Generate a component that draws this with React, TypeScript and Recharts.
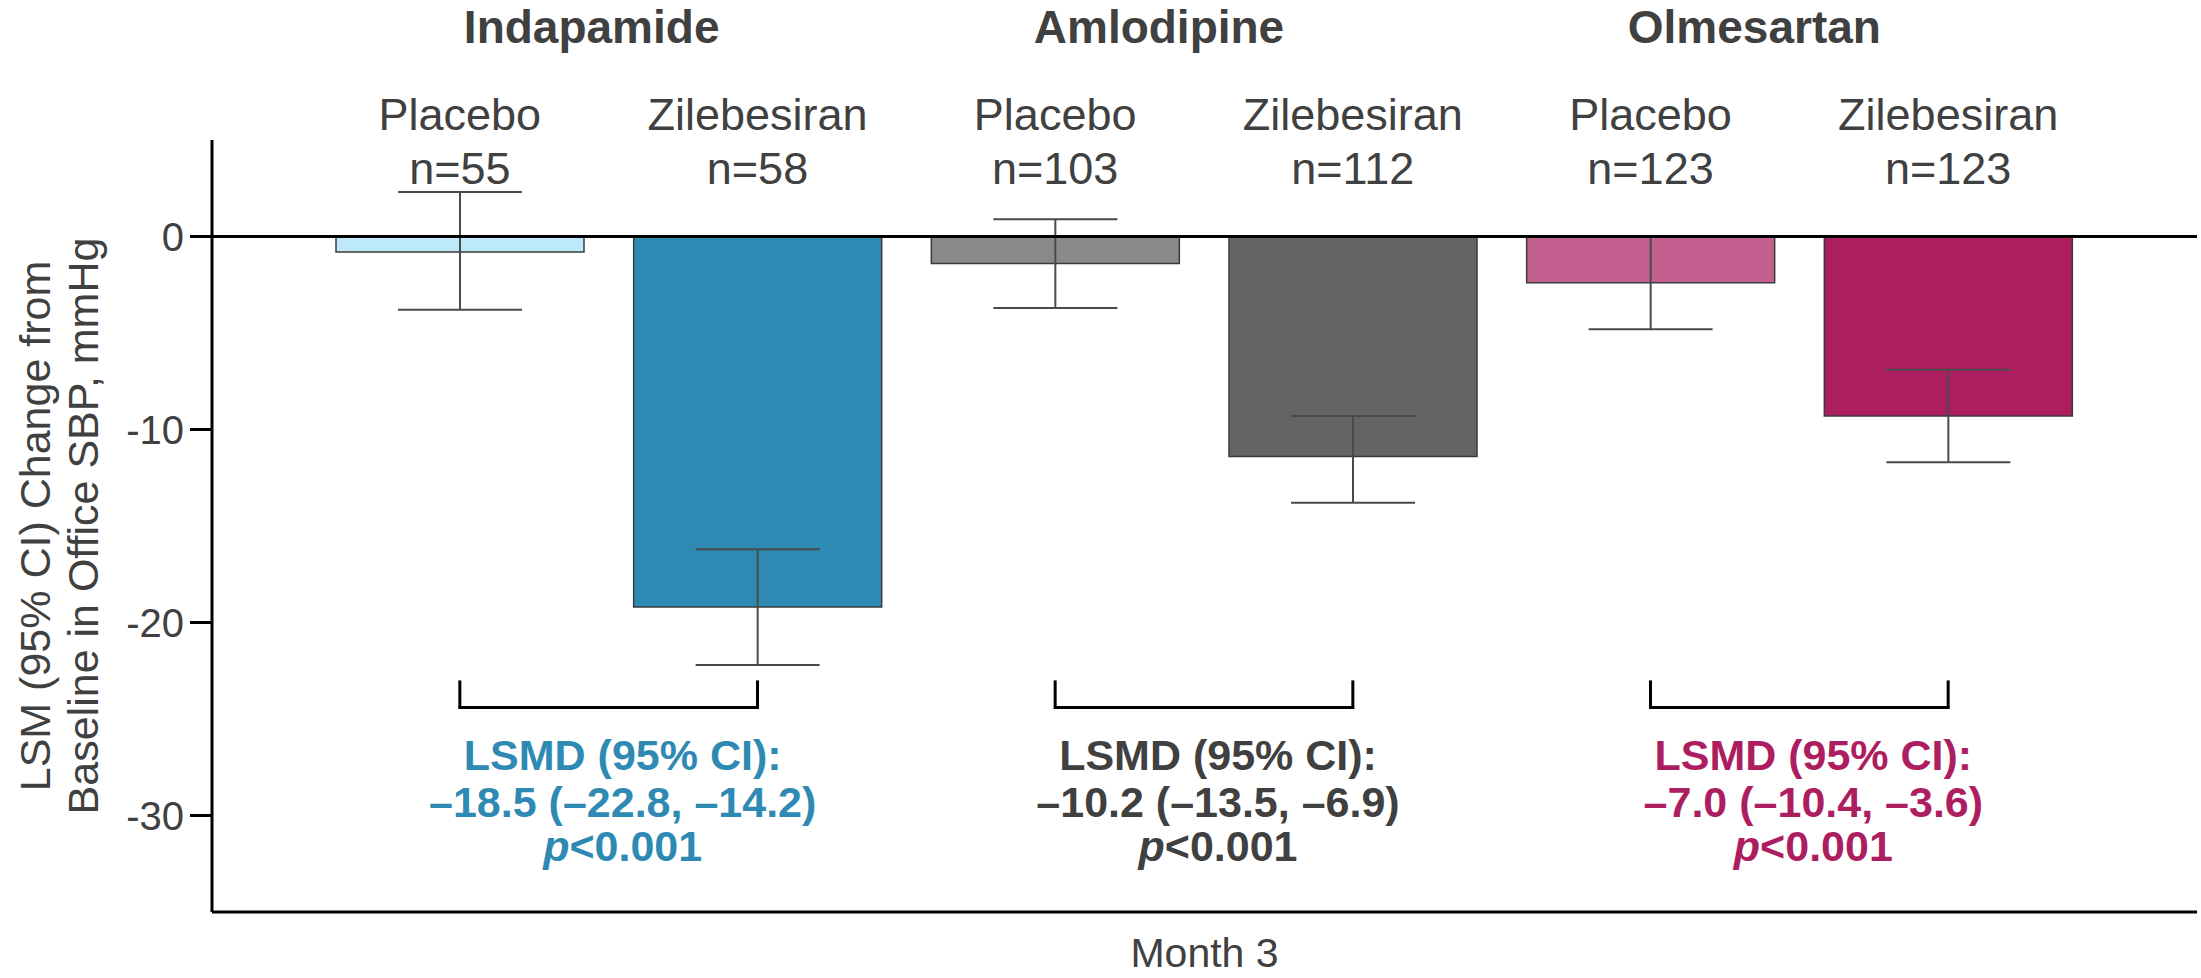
import { Bar, BarChart, Cell, ErrorBar, ReferenceLine, XAxis, YAxis } from "recharts";

// arms, left to right
const armKeys = ["ind-pbo", "ind-zil", "aml-pbo", "aml-zil", "olm-pbo", "olm-zil"];
const armNames = ["Placebo", "Zilebesiran", "Placebo", "Zilebesiran", "Placebo", "Zilebesiran"];
const armCounts = ["n=55", "n=58", "n=103", "n=112", "n=123", "n=123"];
const lsm = [-0.8, -19.2, -1.4, -11.4, -2.4, -9.3];
const ciLow = [-3.8, -22.2, -3.7, -13.8, -4.8, -11.7];
const ciHigh = [2.3, -16.2, 0.9, -9.3, 0.0, -6.9];
const barColors = ["#BDE9FA", "#2E8AB3", "#898989", "#646464", "#C3608F", "#AD1E61"];

// drug groups (placebo arm, zilebesiran arm)
const drugs = ["Indapamide", "Amlodipine", "Olmesartan"];
const drugArms = [
  ["ind-pbo", "ind-zil"],
  ["aml-pbo", "aml-zil"],
  ["olm-pbo", "olm-zil"],
];
const drugColors = ["#2E8AB3", "#404040", "#AD1E61"];
const lsmdEstimates = ["–18.5 (–22.8, –14.2)", "–10.2 (–13.5, –6.9)", "–7.0 (–10.4, –3.6)"];
const pValues = ["<0.001", "<0.001", "<0.001"];

const yTicks = [0, -10, -20, -30];
const bracketTop = -23;
const bracketBottom = -24.4;

const data = armKeys.map((key, i) => ({
  key,
  value: lsm[i],
  err: [lsm[i] - ciLow[i], ciHigh[i] - lsm[i]],
}));

const FONT = "'Liberation Sans', Arial, Helvetica, sans-serif";
const TEXT = "#404040";
const PLOT_TOP = 140;
const titleShift = [-17, -45, -45];

// arm names + n are drawn above the plot, at each category's x
const renderArmTick = (props: any) => {
  const { x, payload } = props;
  const i = armKeys.indexOf(payload.value);
  return (
    <g>
      <text x={x} y={PLOT_TOP - 10} textAnchor="middle" fontSize={45} fill={TEXT} fontFamily={FONT}>
        {armNames[i]}
      </text>
      <text x={x} y={PLOT_TOP + 44} textAnchor="middle" fontSize={45} fill={TEXT} fontFamily={FONT}>
        {armCounts[i]}
      </text>
    </g>
  );
};

const renderYLabel = (props: any) => {
  const { viewBox } = props;
  const cy = viewBox.y + viewBox.height / 2;
  return (
    <g fontSize={43} fill={TEXT} fontFamily={FONT}>
      <text x={50} y={cy} textAnchor="middle" transform={`rotate(-90, 50, ${cy})`}>
        LSM (95% CI) Change from
      </text>
      <text x={98} y={cy} textAnchor="middle" transform={`rotate(-90, 98, ${cy})`}>
        Baseline in Office SBP, mmHg
      </text>
    </g>
  );
};

const renderXLabel = (props: any) => {
  const { viewBox } = props;
  return (
    <text
      x={viewBox.x + viewBox.width / 2}
      y={viewBox.y + 55}
      textAnchor="middle"
      fontSize={41}
      fill={TEXT}
      fontFamily={FONT}
    >
      Month 3
    </text>
  );
};

const titleLabel = (g: number) => (props: any) => {
  const { viewBox } = props;
  const cx = viewBox.x + viewBox.width / 2 + titleShift[g];
  return (
    <text x={cx} y={viewBox.y - 97} textAnchor="middle" fontSize={46} fontWeight="bold" fill={TEXT} fontFamily={FONT}>
      {drugs[g]}
    </text>
  );
};

const lsmdLabel = (g: number) => (props: any) => {
  const { viewBox } = props;
  const cx = viewBox.x + viewBox.width / 2 + 14;
  const y0 = viewBox.y;
  return (
    <text textAnchor="middle" fontSize={43} fontWeight="bold" fill={drugColors[g]} fontFamily={FONT}>
      <tspan x={cx} y={y0 + 63}>LSMD (95% CI):</tspan>
      <tspan x={cx} y={y0 + 110}>{lsmdEstimates[g]}</tspan>
      <tspan x={cx} y={y0 + 154}>
        <tspan fontStyle="italic">p</tspan>
        {pValues[g]}
      </tspan>
    </text>
  );
};

export default function App() {
  return (
    <div style={{ position: "absolute", left: 0, top: 0, background: "#fff" }}>
      <BarChart width={2201} height={978} data={data} margin={{ top: PLOT_TOP, right: 4, bottom: 0, left: 0 }}>
        <XAxis
          dataKey="key"
          height={66}
          padding={{ left: 99, right: 100 }}
          tick={renderArmTick}
          tickLine={false}
          interval={0}
          axisLine={{ stroke: "#000", strokeWidth: 3 }}
          label={renderXLabel}
        />
        <YAxis
          type="number"
          domain={[-35, 5]}
          ticks={yTicks}
          width={212}
          tickSize={22}
          tickMargin={6}
          tick={{ fontSize: 40, fill: TEXT, fontFamily: FONT }}
          tickLine={{ stroke: "#000", strokeWidth: 3 }}
          axisLine={{ stroke: "#000", strokeWidth: 3 }}
          label={renderYLabel}
        />
        <Bar dataKey="value" barSize={248} stroke="#3a3a3a" strokeWidth={1.5} isAnimationActive={false}>
          {data.map((d, i) => (
            <Cell key={d.key} fill={barColors[i]} />
          ))}
          <ErrorBar dataKey="err" width={62} stroke="#4a4a4a" strokeWidth={2} direction="y" />
        </Bar>
        <ReferenceLine y={0} stroke="#000" strokeWidth={3} />
        {drugArms.map(([p, z], g) => (
          <ReferenceLine
            key={`t-${g}`}
            ifOverflow="visible"
            stroke="none"
            segment={[
              { x: p, y: 5 },
              { x: z, y: 5 },
            ]}
            label={titleLabel(g)}
          />
        ))}
        {drugArms.map(([p, z], g) => (
          <ReferenceLine
            key={`bl-${g}`}
            stroke="#000"
            strokeWidth={3}
            segment={[
              { x: p, y: bracketTop },
              { x: p, y: bracketBottom },
            ]}
          />
        ))}
        {drugArms.map(([p, z], g) => (
          <ReferenceLine
            key={`br-${g}`}
            stroke="#000"
            strokeWidth={3}
            segment={[
              { x: z, y: bracketTop },
              { x: z, y: bracketBottom },
            ]}
          />
        ))}
        {drugArms.map(([p, z], g) => (
          <ReferenceLine
            key={`b-${g}`}
            stroke="#000"
            strokeWidth={3}
            strokeLinecap="square"
            segment={[
              { x: p, y: bracketBottom },
              { x: z, y: bracketBottom },
            ]}
            label={lsmdLabel(g)}
          />
        ))}
      </BarChart>
    </div>
  );
}
